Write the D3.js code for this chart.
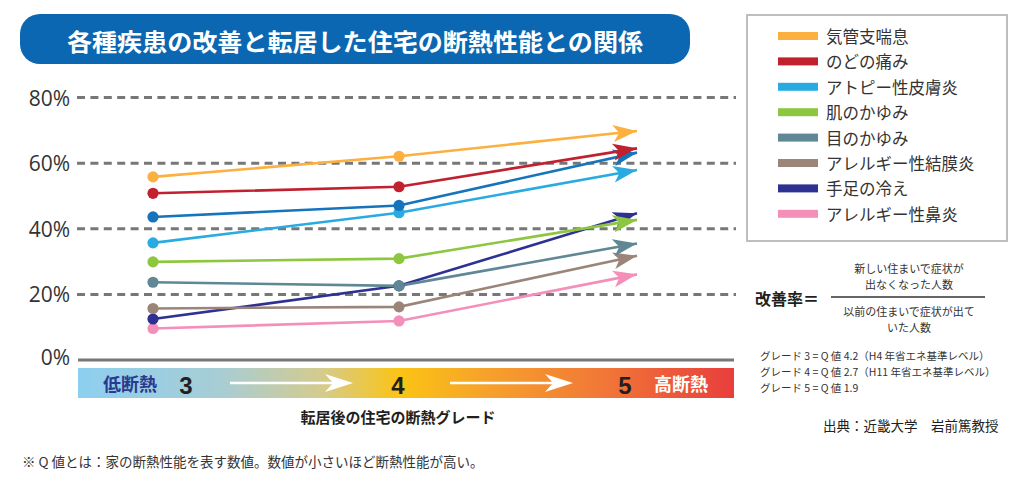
<!DOCTYPE html>
<html><head><meta charset="utf-8">
<script src="https://cdn.jsdelivr.net/npm/d3@7/dist/d3.min.js"></script>
<style>
body{margin:0;background:#fff;}
svg{display:block;}
.jp{font-family:"Noto Sans CJK JP","Noto Sans",sans-serif;}
</style></head>
<body><div id="chart"></div>
<script>
const grades = [3, 4, 5];
const gradeLabels = ["3", "4", "5"];
const yTicks = [0, 20, 40, 60, 80];
const seriesNames = ["気管支喘息","のどの痛み","(凡例なし)","アトピー性皮膚炎","肌のかゆみ","目のかゆみ","アレルギー性結膜炎","手足の冷え","アレルギー性鼻炎"];
const seriesColors = ["#fbb040","#c1202f","#1574bc","#29abe2","#8dc63f","#5f8795","#9b8579","#2e3192","#f38fb9"];
const inLegend = [true,true,false,true,true,true,true,true,true];
const valOrange = [55.8, 62.1, 69.8];
const valRed = [50.8, 52.8, 64.5];
const valBlue = [43.6, 47.1, 63.2];
const valLightBlue = [35.7, 44.9, 57.9];
const valGreen = [29.9, 30.9, 42.7];
const valGrayBlue = [23.7, 22.6, 35.5];
const valBrown = [15.7, 16.2, 31.8];
const valNavy = [12.5, 22.6, 44.7];
const valPink = [9.6, 11.9, 26.1];
const seriesValues = [valOrange,valRed,valBlue,valLightBlue,valGreen,valGrayBlue,valBrown,valNavy,valPink];

const W = 1024, H = 477;
const svg = d3.select("#chart").append("svg").attr("width", W).attr("height", H);
const defs = svg.append("defs");

const x = d3.scaleLinear().domain(grades).range([153, 399, 637]);
const y = d3.scaleLinear().domain([0, 80]).range([360, 97.5]);

// Title
svg.append("rect").attr("x", 20).attr("y", 14).attr("width", 670).attr("height", 50).attr("rx", 20).attr("fill", "#0b67b2");
svg.append("text").attr("class","jp").attr("x", 355).attr("y", 40).attr("text-anchor","middle").attr("dominant-baseline","central")
  .attr("fill","#fff").attr("font-size",24).attr("font-weight","bold")
  .attr("textLength",576).attr("lengthAdjust","spacingAndGlyphs")
  .text("各種疾患の改善と転居した住宅の断熱性能との関係");

// Grid
yTicks.forEach(t => {
  if (t === 0) {
    svg.append("line").attr("x1",78).attr("x2",734).attr("y1",y(t)).attr("y2",y(t)).attr("stroke","#777").attr("stroke-width",3);
  } else {
    svg.append("line").attr("x1",77).attr("x2",736).attr("y1",y(t)).attr("y2",y(t)).attr("stroke","#777").attr("stroke-width",3).attr("stroke-dasharray","8,5.4");
  }
  svg.append("text").attr("x",70).attr("y",y(t) - (t===0?3:0)).attr("text-anchor","end").attr("dominant-baseline","central")
    .attr("font-family","'Open Sans',sans-serif").attr("font-size",21).attr("fill","#333").text(t + "%");
});

// Gradient bar
const grad = defs.append("linearGradient").attr("id","gbar").attr("x1","0").attr("x2","1").attr("y1","0").attr("y2","0");
[[0,"#8dcff0"],[0.22,"#a8cdd4"],[0.37,"#d4cb8e"],[0.49,"#fbc414"],[0.63,"#f6a02c"],[0.8,"#f17737"],[1,"#e83e3c"]]
  .forEach(s => grad.append("stop").attr("offset",s[0]).attr("stop-color",s[1]));
svg.append("rect").attr("x",78).attr("y",368).attr("width",656).attr("height",30).attr("fill","url(#gbar)");
svg.append("text").attr("class","jp").attr("x",130).attr("y",383).attr("text-anchor","middle").attr("dominant-baseline","central")
  .attr("font-size",18).attr("font-weight","bold").attr("fill","#2b3990").text("低断熱");
svg.append("text").attr("class","jp").attr("x",681).attr("y",383).attr("text-anchor","middle").attr("dominant-baseline","central")
  .attr("font-size",18).attr("font-weight","bold").attr("fill","#fff").text("高断熱");
const gradeTextX = [186, 398, 625];
gradeLabels.forEach((g,i) => {
  svg.append("text").attr("x",gradeTextX[i]).attr("y",385).attr("text-anchor","middle").attr("dominant-baseline","central")
    .attr("font-family","'Liberation Sans',Arial,sans-serif").attr("font-size",24).attr("font-weight","bold").attr("fill","#231f20").text(g);
});
// white arrows
[[230,353],[450,573]].forEach(a => {
  svg.append("line").attr("x1",a[0]).attr("x2",a[1]-10).attr("y1",383).attr("y2",383).attr("stroke","#fff").attr("stroke-width",2.5);
  svg.append("path").attr("d",`M${a[1]},383 L${a[1]-28},374 L${a[1]-20},383 L${a[1]-28},392 Z`).attr("fill","#fff");
});
svg.append("text").attr("class","jp").attr("x",398).attr("y",416).attr("text-anchor","middle").attr("dominant-baseline","central")
  .attr("font-size",15).attr("font-weight","bold").attr("fill","#231f20").text("転居後の住宅の断熱グレード");
svg.append("text").attr("class","jp").attr("x",22).attr("y",461).attr("dominant-baseline","central")
  .attr("font-size",13.5).attr("fill","#333").text("※ Q 値とは：家の断熱性能を表す数値。数値が小さいほど断熱性能が高い。");

// Markers
seriesColors.forEach((c,i) => {
  defs.append("marker").attr("id","ah"+i).attr("markerUnits","userSpaceOnUse").attr("markerWidth",26).attr("markerHeight",20)
    .attr("viewBox","0 -10 26 20").attr("refX",24).attr("refY",0).attr("orient","auto")
    .append("path").attr("d","M24,0 L0,-8.5 L6,0 L0,8.5 Z").attr("fill",c);
});

// Lines (draw bottom first so upper lines overlay)
const line = d3.line().x((d,i) => x(grades[i])).y(d => y(d));
const order = d3.range(seriesValues.length).reverse();
order.forEach(i => {
  svg.append("path").datum(seriesValues[i]).attr("d", line).attr("fill","none")
    .attr("stroke",seriesColors[i]).attr("stroke-width",2.6).attr("marker-end","url(#ah"+i+")");
});
order.forEach(i => {
  seriesValues[i].slice(0,2).forEach((v,j) => {
    svg.append("circle").attr("cx",x(grades[j])).attr("cy",y(v)).attr("r",5.6).attr("fill",seriesColors[i]);
  });
});

// Legend
svg.append("rect").attr("x",747).attr("y",15).attr("width",260).attr("height",226).attr("fill","#fff").attr("stroke","#bcbec0").attr("stroke-width",2);
let row = 0;
seriesNames.forEach((n,i) => {
  if (!inLegend[i]) return;
  const cy = 36 + row * 25.4;
  svg.append("rect").attr("x",778).attr("y",cy-4).attr("width",40).attr("height",8).attr("fill",seriesColors[i]);
  svg.append("text").attr("class","jp").attr("x",826).attr("y",cy).attr("dominant-baseline","central")
    .attr("font-size",16.5).attr("fill","#333").text(n);
  row++;
});

// Formula
svg.append("text").attr("class","jp").attr("x",755).attr("y",298).attr("dominant-baseline","central")
  .attr("font-size",16).attr("font-weight","bold").attr("fill","#231f20").text("改善率＝");
svg.append("line").attr("x1",831).attr("x2",985).attr("y1",297).attr("y2",297).attr("stroke","#333").attr("stroke-width",1.5);
[["新しい住まいで症状が",268],["出なくなった人数",284],["以前の住まいで症状が出て",311],["いた人数",327]].forEach(t => {
  svg.append("text").attr("class","jp").attr("x",909).attr("y",t[1]).attr("text-anchor","middle").attr("dominant-baseline","central")
    .attr("font-size",11).attr("fill","#333").text(t[0]);
});
[["グレード 3 = Q 値 4.2（H4 年省エネ基準レベル）",355],["グレード 4 = Q 値 2.7（H11 年省エネ基準レベル）",371],["グレード 5 = Q 値 1.9",387]].forEach(t => {
  svg.append("text").attr("class","jp").attr("x",760).attr("y",t[1]).attr("dominant-baseline","central")
    .attr("font-size",10.5).attr("fill","#333").text(t[0]);
});
svg.append("text").attr("class","jp").attr("x",823).attr("y",425).attr("dominant-baseline","central")
  .attr("font-size",13.5).attr("fill","#231f20").text("出典：近畿大学　岩前篤教授");
</script></body></html>
